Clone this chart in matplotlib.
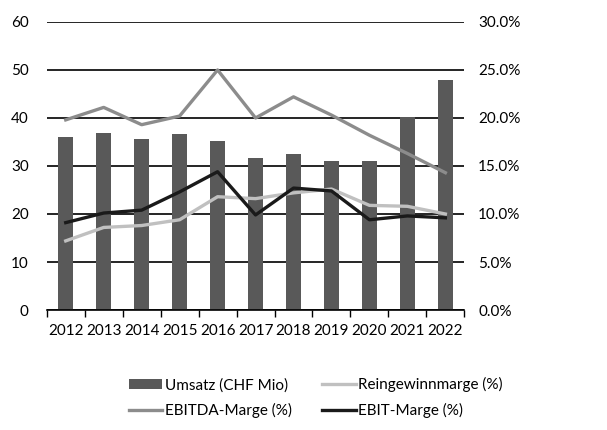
import numpy as np
import matplotlib.pyplot as plt
from matplotlib.ticker import FuncFormatter

plt.rcParams['font.family'] = ['Lato', 'DejaVu Sans']

years = ['2012', '2013', '2014', '2015', '2016', '2017', '2018', '2019', '2020', '2021', '2022']
umsatz = [36.0, 36.9, 35.6, 36.6, 35.3, 31.7, 32.4, 31.0, 31.0, 40.1, 48.0]
reingewinn = [7.2, 8.6, 8.8, 9.4, 11.8, 11.6, 12.2, 12.6, 10.9, 10.8, 10.0]
ebitda = [19.8, 21.1, 19.3, 20.2, 25.0, 20.0, 22.2, 20.3, 18.2, 16.3, 14.3]
ebit = [9.1, 10.1, 10.4, 12.3, 14.4, 9.9, 12.7, 12.4, 9.4, 9.8, 9.6]

fig = plt.figure(figsize=(6.07, 4.30), dpi=100)
ax = fig.add_axes([0.077, 0.279, 0.688, 0.670])
x = np.arange(len(years))

ax.set_ylim(0, 60)
ax.set_yticks(range(0, 61, 10))
ax.grid(axis='y', color='black', linewidth=1.2)
ax.set_axisbelow(True)
bars = ax.bar(x, umsatz, width=0.39, color='#595959', label='Umsatz (CHF Mio)', zorder=2)
ax.set_xlim(-0.5, len(years) - 0.5)
ax.set_xticks(x)
ax.set_xticklabels(years)
ax.set_xticks(np.arange(-0.5, len(years), 1), minor=True)
ax.tick_params(axis='x', which='major', length=0, pad=10, labelsize=11)
ax.tick_params(axis='x', which='minor', length=5, width=1, direction='out')
ax.tick_params(axis='y', length=0, pad=13, labelsize=11)
for s in ['top', 'left', 'right']:
    ax.spines[s].set_visible(False)
ax.spines['bottom'].set_linewidth(1.2)

ax2 = ax.twinx()
ax2.set_ylim(0, 30)
ax2.set_yticks(range(0, 31, 5))
ax2.yaxis.set_major_formatter(FuncFormatter(lambda v, p: f'{v:.1f}%'))
ax2.tick_params(axis='y', length=0, pad=10, labelsize=11)
for s in ['top', 'left', 'right', 'bottom']:
    ax2.spines[s].set_visible(False)
l1, = ax2.plot(x, reingewinn, color='#c0c0c0', linewidth=2.4, label='Reingewinnmarge (%)')
l2, = ax2.plot(x, ebitda, color='#8c8c8c', linewidth=2.4, label='EBITDA-Marge (%)')
l3, = ax2.plot(x, ebit, color='#1a1a1a', linewidth=2.4, label='EBIT-Marge (%)')

fig.legend([bars, l2, l1, l3],
           ['Umsatz (CHF Mio)', 'EBITDA-Marge (%)', 'Reingewinnmarge (%)', 'EBIT-Marge (%)'],
           ncol=2, loc='center', bbox_to_anchor=(0.52, 0.075), frameon=False,
           fontsize=11, handlelength=2.2, handletextpad=0.15, columnspacing=2.0,
           labelspacing=0.7)

fig.savefig('out.png', dpi=100)
